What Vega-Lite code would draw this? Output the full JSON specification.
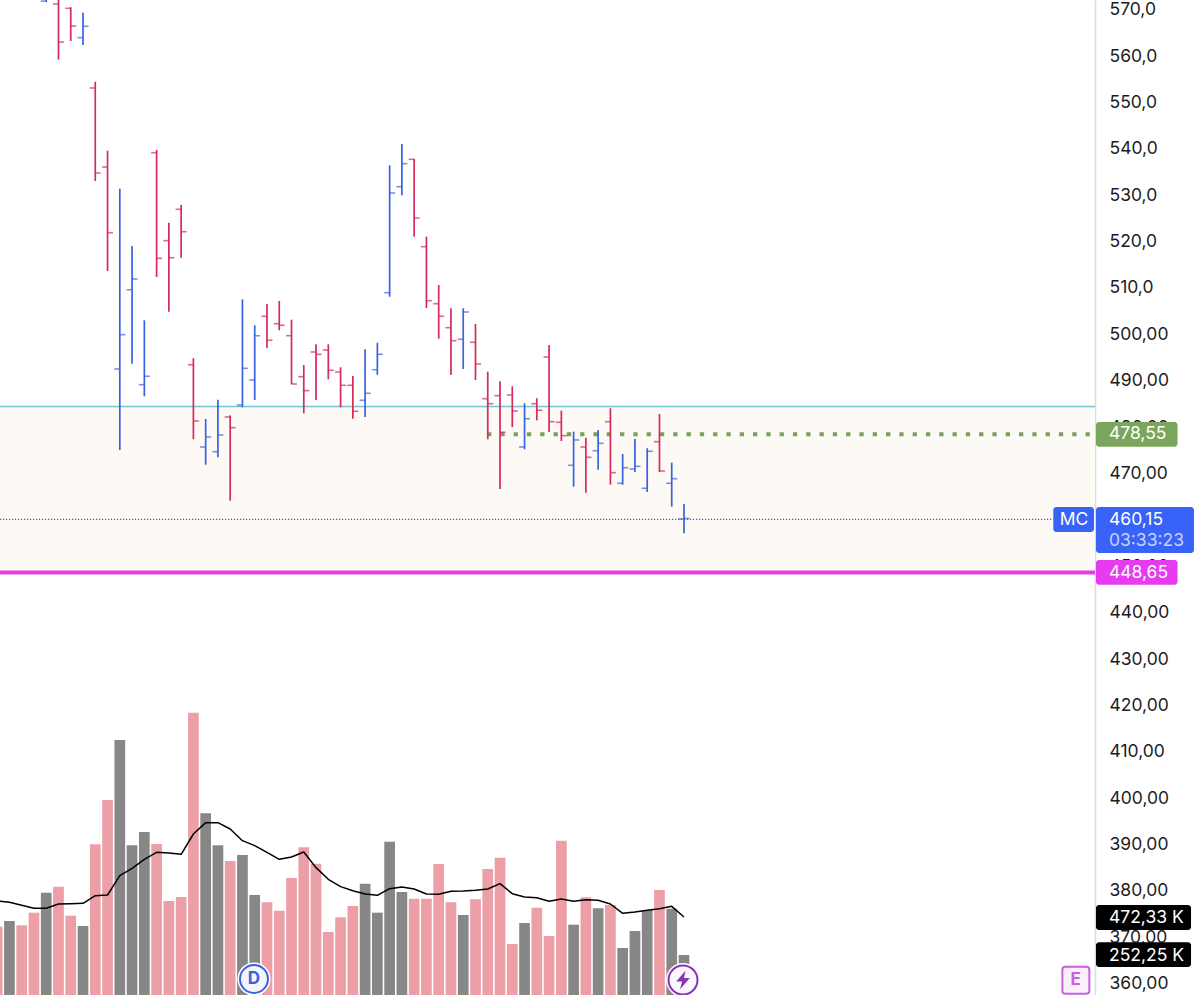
{"$schema":"https://vega.github.io/schema/vega-lite/v6.json","width":1095,"height":995,"padding":{"left":0,"top":0,"right":105,"bottom":0},"autosize":"none","background":"#ffffff","config":{"view":{"stroke":null},"axisX":{"disable":true},"text":{"font":"Inter"}},
"datasets":{"bars":[
{"i":0,"dir":"down","volume":416.3,"ma":565.1},{"i":1,"dir":"up","volume":449.3,"ma":557.4},{"i":2,"dir":"down","volume":424.4,"ma":540},{"i":3,"dir":"down","volume":497.4,"ma":522.7},
{"i":4,"open":571.7,"high":575,"low":571.5,"close":574,"dir":"up","volume":613.2,"ma":522.7},
{"i":5,"open":571.08,"high":574,"low":559.07,"close":562.88,"dir":"down","volume":647.9,"ma":547.7},
{"i":6,"open":570.15,"high":570.37,"low":563.1,"close":566.33,"dir":"down","volume":480,"ma":549.7},
{"i":7,"open":563.81,"high":569.2,"low":562.24,"close":566.27,"dir":"up","volume":420.4,"ma":551.6},
{"i":8,"open":552.97,"high":554.33,"low":532.92,"close":534.64,"dir":"down","volume":893.4,"ma":596},
{"i":9,"open":535.93,"high":539.45,"low":513.51,"close":521.77,"dir":"down","volume":1149.9,"ma":599.8},
{"i":10,"open":492.38,"high":531.26,"low":474.92,"close":499.78,"dir":"up","volume":1497.3,"ma":711.8},
{"i":11,"open":509.48,"high":518.9,"low":493.53,"close":511.79,"dir":"up","volume":887.6,"ma":754.3},
{"i":12,"open":489,"high":502.88,"low":486.5,"close":490.81,"dir":"up","volume":964.6,"ma":806.4},
{"i":13,"open":539.02,"high":539.6,"low":512.22,"close":516.25,"dir":"down","volume":895.1,"ma":846.9},
{"i":14,"open":520.05,"high":523.93,"low":504.74,"close":516.38,"dir":"down","volume":565.1,"ma":843},
{"i":15,"open":526.81,"high":527.74,"low":516.38,"close":521.98,"dir":"down","volume":588.3,"ma":835.3},
{"i":16,"open":493.31,"high":494.69,"low":477.23,"close":481.17,"dir":"down","volume":1655.4,"ma":953},
{"i":17,"open":475.57,"high":481.6,"low":471.75,"close":477.72,"dir":"up","volume":1072.9,"ma":1018.6},
{"i":18,"open":474.55,"high":485.77,"low":473.35,"close":478.16,"dir":"up","volume":887.6,"ma":1018.6},
{"i":19,"open":482.03,"high":482.4,"low":463.99,"close":479.73,"dir":"down","volume":796.7,"ma":982},
{"i":20,"open":484.62,"high":507.41,"low":484.13,"close":492.53,"dir":"up","volume":831.4,"ma":914.4},
{"i":21,"open":490.01,"high":501.81,"low":485.7,"close":499.56,"dir":"up","volume":599.8,"ma":885.5},
{"i":22,"open":503.75,"high":506.4,"low":496.91,"close":498.57,"dir":"down","volume":557.6,"ma":846.9},
{"i":23,"open":502.15,"high":507.04,"low":500.73,"close":501.81,"dir":"down","volume":508.9,"ma":806.4},
{"i":24,"open":499.56,"high":503.01,"low":489.08,"close":489.15,"dir":"down","volume":698.3,"ma":819.9},
{"i":25,"open":490.72,"high":493.25,"low":482.83,"close":487.71,"dir":"down","volume":876,"ma":848.8},
{"i":26,"open":496.05,"high":497.71,"low":485.7,"close":495.55,"dir":"down","volume":781.1,"ma":758.1},
{"i":27,"open":496.48,"high":497.71,"low":490.16,"close":492.1,"dir":"down","volume":385.6,"ma":690.6},
{"i":28,"open":491.74,"high":492.75,"low":484.13,"close":488.87,"dir":"down","volume":470.7,"ma":648.1},
{"i":29,"open":488.87,"high":490.87,"low":481.67,"close":483.26,"dir":"down","volume":536.2,"ma":624.9},
{"i":30,"open":485.63,"high":496.63,"low":482.03,"close":487.14,"dir":"up","volume":665.3,"ma":605.6},
{"i":31,"open":492.23,"high":498.05,"low":491.15,"close":495.55,"dir":"up","volume":497.4,"ma":597.9},
{"i":32,"open":508.83,"high":536.3,"low":507.97,"close":530.33,"dir":"up","volume":908.5,"ma":636.5},
{"i":33,"open":531.69,"high":540.89,"low":529.83,"close":536.65,"dir":"up","volume":617.2,"ma":646.2},
{"i":34,"open":537.59,"high":537.66,"low":520.91,"close":524.94,"dir":"down","volume":578.4,"ma":634.6},
{"i":35,"open":518.75,"high":520.91,"low":505.53,"close":507.11,"dir":"down","volume":578.4,"ma":605.6},
{"i":36,"open":506.46,"high":510.49,"low":498.92,"close":503.75,"dir":"down","volume":779.3,"ma":603.7},
{"i":37,"open":501.29,"high":505.47,"low":491.09,"close":498.49,"dir":"down","volume":557.6,"ma":621.1},
{"i":38,"open":498.79,"high":505.47,"low":492.38,"close":504.67,"dir":"up","volume":484,"ma":623},
{"i":39,"open":498.14,"high":502.09,"low":490.01,"close":493.46,"dir":"down","volume":574.9,"ma":626.9},
{"i":40,"open":485.98,"high":491.8,"low":477.23,"close":484.9,"dir":"down","volume":750.4,"ma":634.6},
{"i":41,"open":486.63,"high":489.73,"low":466.51,"close":478.74,"dir":"down","volume":815.8,"ma":665.5},
{"i":42,"open":486.78,"high":488.65,"low":479.88,"close":483.33,"dir":"down","volume":316.1,"ma":607.5},
{"i":43,"open":475.57,"high":484.99,"low":475.07,"close":481.67,"dir":"up","volume":437.7,"ma":588.3},
{"i":44,"open":484.9,"high":486.07,"low":481.32,"close":483.48,"dir":"down","volume":526.3,"ma":584.4},
{"i":45,"open":494.97,"high":497.56,"low":478.8,"close":481.02,"dir":"down","volume":362.5,"ma":563.2},
{"i":46,"open":480.89,"high":483.39,"low":476.86,"close":478,"dir":"down","volume":914.2,"ma":576.7},
{"i":47,"open":471.62,"high":478.87,"low":467.01,"close":477.08,"dir":"up","volume":427.9,"ma":563.2},
{"i":48,"open":475.57,"high":477.57,"low":465.71,"close":473.35,"dir":"down","volume":586.5,"ma":572.8},
{"i":49,"open":474.77,"high":479.23,"low":470.67,"close":476.36,"dir":"up","volume":522.8,"ma":569},
{"i":50,"open":481.02,"high":483.91,"low":467.44,"close":470.03,"dir":"down","volume":541.9,"ma":547.7},
{"i":51,"open":467.74,"high":474.06,"low":467.44,"close":471.1,"dir":"up","volume":293,"ma":493.7},
{"i":52,"open":470.82,"high":477.29,"low":470.18,"close":471.4,"dir":"up","volume":391.4,"ma":501.4},
{"i":53,"open":466.66,"high":475.29,"low":465.87,"close":474.64,"dir":"up","volume":513,"ma":511.1},
{"i":54,"open":476.71,"high":482.68,"low":470.18,"close":470.39,"dir":"down","volume":628.8,"ma":520.7},
{"i":55,"open":467.74,"high":472.18,"low":462.69,"close":468.73,"dir":"up","volume":520.5,"ma":534.2},
{"i":56,"open":460.05,"high":463.27,"low":456.96,"close":460.15,"dir":"up","volume":252.25,"ma":472.33}
],"one":[{"n":1}]},
"data":{"name":"one"},
"resolve":{"scale":{"y":"independent","color":"independent"}},
"layer":[
{"data":{"name":"bars"},"encoding":{"x":{"field":"i","type":"quantitative","scale":{"domain":[0.2316,89.5105],"nice":false,"zero":false,"padding":0}}},
"layer":[
{"mark":{"type":"bar","width":10.7},"encoding":{"y":{"field":"volume","type":"quantitative","stack":null,"scale":{"domain":[20.8,5782],"nice":false,"zero":false},"axis":null},"color":{"field":"dir","type":"nominal","scale":{"domain":["up","down"],"range":["#878787","#ec9fa7"]},"legend":null}}},
{"mark":{"type":"line","color":"#000000","strokeWidth":1.5,"strokeJoin":"round"},"encoding":{"y":{"field":"ma","type":"quantitative","axis":null}}}
]},
{"layer":[
{"mark":{"type":"rect","color":"#fdf9f5"},"encoding":{"x":{"datum":0.2316,"type":"quantitative","scale":{"domain":[0.2316,89.5105],"nice":false,"zero":false,"padding":0}},"x2":{"datum":89.5105},"y":{"datum":484.3,"type":"quantitative","scale":{"domain":[357.41,571.94],"nice":false,"zero":false},"axis":{"orient":"right","title":null,"values":[360,370,380,390,400,410,420,430,440,450,460,470,480,490,500,510,520,530,540,550,560,570],"labelExpr":"replace(format(datum.value, datum.value >= 510 ? '.1f' : '.2f'), '.', ',')","labelFont":"Inter","labelFontSize":17.5,"labelColor":"#1c1c1e","labelPadding":14,"labelOffset":0.7,"labelOverlap":false,"labelBound":false,"labelFlush":false,"ticks":false,"grid":false,"domain":true,"domainColor":"#dcdcdc","domainWidth":1.5}},"y2":{"datum":448.65}}},
{"mark":{"type":"rule","color":"#74c4d6","strokeWidth":1.4},"encoding":{"x":{"datum":0.2316,"type":"quantitative"},"x2":{"datum":89.5105},"y":{"datum":484.3,"type":"quantitative"}}},
{"mark":{"type":"rule","color":"#7ba05b","strokeWidth":4,"strokeDash":[4.3,9]},"encoding":{"x":{"datum":39.94,"type":"quantitative"},"x2":{"datum":89.5105},"y":{"datum":478.3,"type":"quantitative"}}},
{"mark":{"type":"rule","color":"#3b5fd9","strokeWidth":1.2,"strokeDash":[1.2,1.8]},"encoding":{"x":{"datum":0.2316,"type":"quantitative"},"x2":{"datum":86.1},"y":{"datum":459.95,"type":"quantitative"}}},
{"mark":{"type":"rule","color":"#e33de8","strokeWidth":4},"encoding":{"x":{"datum":0.2316,"type":"quantitative"},"x2":{"datum":89.5105},"y":{"datum":448.5,"type":"quantitative"}}},
{"data":{"name":"bars"},"transform":[{"filter":"isValid(datum.high)"}],
"encoding":{"x":{"field":"i","type":"quantitative"},"color":{"field":"dir","type":"nominal","scale":{"domain":["up","down"],"range":["#3a62e0","#d42a5e"]},"legend":null}},
"layer":[
{"mark":{"type":"rule","strokeWidth":1.7},"encoding":{"y":{"field":"high","type":"quantitative"},"y2":{"field":"low"}}},
{"mark":{"type":"tick","orient":"horizontal","size":5.5,"thickness":1.6,"xOffset":-2.75},"encoding":{"y":{"field":"open","type":"quantitative"}}},
{"mark":{"type":"tick","orient":"horizontal","size":5.5,"thickness":1.6,"xOffset":2.75},"encoding":{"y":{"field":"close","type":"quantitative"}}}
]},
{"mark":{"type":"rect","color":"#7aa55c","cornerRadius":3},"encoding":{"x":{"datum":89.59,"type":"quantitative"},"x2":{"datum":96.24},"y":{"datum":480.96,"type":"quantitative"},"y2":{"datum":475.63}}},
{"mark":{"type":"rect","color":"#3862f8","cornerRadius":3},"encoding":{"x":{"datum":89.59,"type":"quantitative"},"x2":{"datum":97.58},"y":{"datum":462.63,"type":"quantitative"},"y2":{"datum":452.72}}},
{"mark":{"type":"rect","color":"#3862f8","cornerRadius":3},"encoding":{"x":{"datum":86.11,"type":"quantitative"},"x2":{"datum":89.43},"y":{"datum":462.63,"type":"quantitative"},"y2":{"datum":457.24}}},
{"mark":{"type":"rect","color":"#e63bee","cornerRadius":3},"encoding":{"x":{"datum":89.59,"type":"quantitative"},"x2":{"datum":96.24},"y":{"datum":451.2,"type":"quantitative"},"y2":{"datum":445.88}}},
{"mark":{"type":"rect","color":"#000000","cornerRadius":3},"encoding":{"x":{"datum":89.59,"type":"quantitative"},"x2":{"datum":97.34},"y":{"datum":376.83,"type":"quantitative"},"y2":{"datum":371.43}}},
{"mark":{"type":"rect","color":"#000000","cornerRadius":3},"encoding":{"x":{"datum":89.59,"type":"quantitative"},"x2":{"datum":97.34},"y":{"datum":368.77,"type":"quantitative"},"y2":{"datum":363.45}}},
{"mark":{"type":"rect","fill":"#faf0fc","stroke":"#c860e0","strokeWidth":2,"cornerRadius":3},"encoding":{"x":{"datum":86.85,"type":"quantitative"},"x2":{"datum":89.05},"y":{"datum":363.52,"type":"quantitative"},"y2":{"datum":357.7}}},
{"mark":{"type":"text","color":"#ffffff","align":"left","baseline":"middle","fontSize":17.5,"dy":1},"encoding":{"x":{"datum":90.65,"type":"quantitative"},"y":{"datum":478.55,"type":"quantitative"},"text":{"value":"478,55"}}},
{"mark":{"type":"text","color":"#ffffff","align":"left","baseline":"middle","fontSize":17.5,"dy":1},"encoding":{"x":{"datum":90.65,"type":"quantitative"},"y":{"datum":460.05,"type":"quantitative"},"text":{"value":"460,15"}}},
{"mark":{"type":"text","color":"#c5d3fb","align":"left","baseline":"middle","fontSize":17.5,"dy":1},"encoding":{"x":{"datum":90.65,"type":"quantitative"},"y":{"datum":455.47,"type":"quantitative"},"text":{"value":"03:33:23"}}},
{"mark":{"type":"text","color":"#ffffff","align":"center","baseline":"middle","fontSize":17.5,"dy":1},"encoding":{"x":{"datum":87.8,"type":"quantitative"},"y":{"datum":460.05,"type":"quantitative"},"text":{"value":"MC"}}},
{"mark":{"type":"text","color":"#ffffff","align":"left","baseline":"middle","fontSize":17.5,"dy":1},"encoding":{"x":{"datum":90.65,"type":"quantitative"},"y":{"datum":448.6,"type":"quantitative"},"text":{"value":"448,65"}}},
{"mark":{"type":"text","color":"#ffffff","align":"left","baseline":"middle","fontSize":17.5,"dy":1},"encoding":{"x":{"datum":90.65,"type":"quantitative"},"y":{"datum":374.23,"type":"quantitative"},"text":{"value":"472,33 K"}}},
{"mark":{"type":"text","color":"#ffffff","align":"left","baseline":"middle","fontSize":17.5,"dy":1},"encoding":{"x":{"datum":90.65,"type":"quantitative"},"y":{"datum":366.04,"type":"quantitative"},"text":{"value":"252,25 K"}}},
{"mark":{"type":"text","color":"#c860e0","align":"center","baseline":"middle","fontSize":17,"fontWeight":"bold"},"encoding":{"x":{"datum":87.94,"type":"quantitative"},"y":{"datum":360.54,"type":"quantitative"},"text":{"value":"E"}}},
{"mark":{"type":"point","shape":"circle","filled":true,"color":"#ffffff","size":1089,"opacity":1},"encoding":{"x":{"datum":20.94,"type":"quantitative"},"y":{"datum":360.86,"type":"quantitative"}}},
{"mark":{"type":"point","shape":"circle","fill":"#f3f5fd","stroke":"#3b62d9","strokeWidth":2,"size":784,"opacity":1},"encoding":{"x":{"datum":20.94,"type":"quantitative"},"y":{"datum":360.86,"type":"quantitative"}}},
{"mark":{"type":"text","color":"#3b62d9","align":"center","baseline":"middle","fontSize":17,"fontWeight":"bold"},"encoding":{"x":{"datum":20.94,"type":"quantitative"},"y":{"datum":360.86,"type":"quantitative"},"text":{"value":"D"}}},
{"mark":{"type":"point","shape":"circle","filled":true,"color":"#ffffff","size":1156,"opacity":1},"encoding":{"x":{"datum":55.92,"type":"quantitative"},"y":{"datum":360.64,"type":"quantitative"}}},
{"mark":{"type":"point","shape":"circle","fill":"#fbf8fd","stroke":"#8736b3","strokeWidth":2,"size":841,"opacity":1},"encoding":{"x":{"datum":55.92,"type":"quantitative"},"y":{"datum":360.64,"type":"quantitative"}}},
{"mark":{"type":"point","shape":"M0.25,-0.95 L-0.7,0.15 L-0.1,0.15 L-0.3,0.95 L0.7,-0.2 L0.1,-0.2 Z","filled":true,"color":"#8736b3","size":380,"opacity":1},"encoding":{"x":{"datum":55.92,"type":"quantitative"},"y":{"datum":360.64,"type":"quantitative"}}}
]}
]}
